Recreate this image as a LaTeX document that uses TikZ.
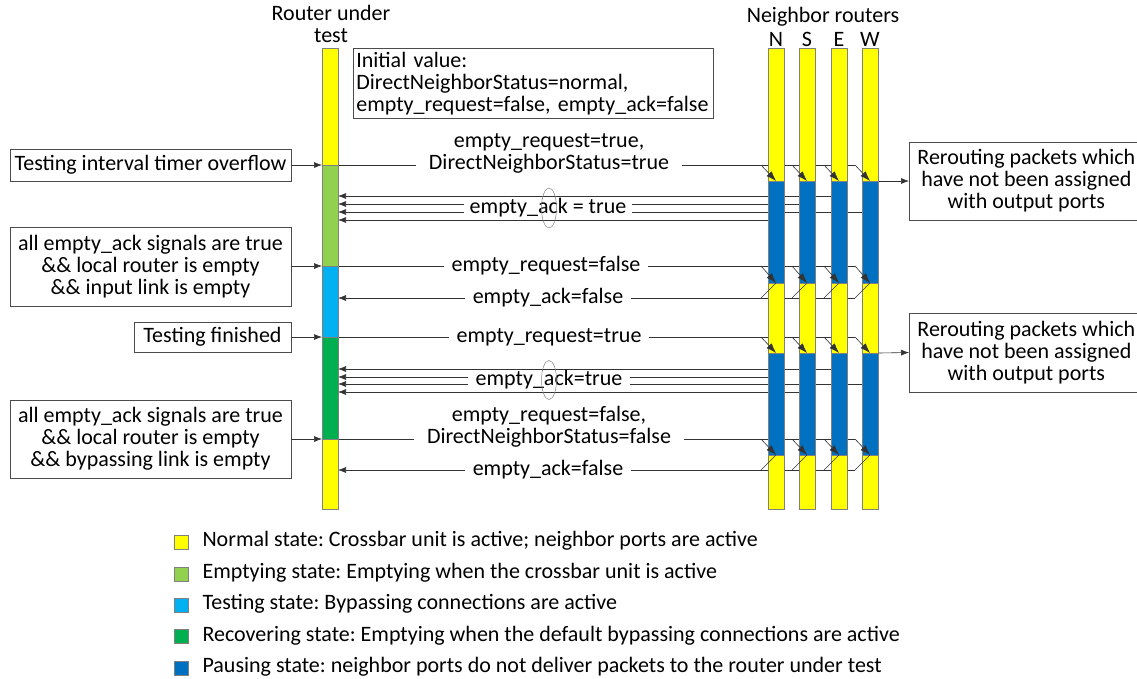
\documentclass[tikz,border=0pt]{standalone}
\usepackage{fontspec}
\setmainfont{Carlito}
\usetikzlibrary{arrows.meta}
\definecolor{cyel}{HTML}{FFFF00}
\definecolor{clgr}{HTML}{92D050}
\definecolor{ccya}{HTML}{00B0F0}
\definecolor{cgrn}{HTML}{00B050}
\definecolor{cblu}{HTML}{0070C0}
\frenchspacing
\begin{document}
\begin{tikzpicture}[x=1pt,y=-1pt,
  font=\fontsize{22}{22}\selectfont,
  colseg/.style={draw=gray, line width=0.8pt, minimum width=16pt, inner sep=0pt, anchor=north west},
  box/.style={draw=black!70, line width=0.7pt, align=center, inner sep=0pt},
  sig/.style={line width=0.6pt, draw=black!80},
  arr/.style={sig, -{Latex[length=8pt,width=6pt]}},
  darr/.style={sig, -{Latex[length=10pt,width=7pt]}},
  lab/.style={fill=white, align=center, inner ysep=0pt, text height=14pt, text depth=5pt},
  ring/.style={draw=gray, line width=0.5pt},
  legsq/.style={draw=gray, line width=0.6pt, minimum size=14pt, inner sep=0pt}]
\useasboundingbox (0,0) rectangle (1137,678);

% titles
\node[align=center] (rut) at (331,24) {Router under\\test};
\node (nr) at (823,17) {Neighbor routers};
\node (tN) at (776,39) {N};
\node (tS) at (807,39) {S};
\node (tE) at (839,39) {E};
\node (tW) at (870,39) {W};

% initial value box
\node[box, anchor=north west, minimum width=360pt, minimum height=70pt, text width=354pt, align=left, inner xsep=3pt] (init) at (353,48)
  {Initial value:\\DirectNeighborStatus=normal,\\empty\_request=false, empty\_ack=false};

% left event boxes
\node[box, minimum width=281pt, minimum height=32pt] (b1) at (150.5,165) {Testing interval timer overflow};
\node[box, minimum width=281pt, minimum height=79pt] (b3) at (150.5,266.5) {all empty\_ack signals are true\\\&\& local router is empty\\\&\& input link is empty};
\node[box, minimum width=157pt, minimum height=30pt] (b5) at (212.5,337) {Testing finished};
\node[box, minimum width=281pt, minimum height=78pt] (b7) at (150.5,439) {all empty\_ack signals are true\\\&\& local router is empty\\\&\& bypassing link is empty};

% right rerouting boxes
\node[box, anchor=west, minimum width=234pt, minimum height=78pt] (rr1) at (909,181) {Rerouting packets which\\have not been assigned\\with output ports};
\node[box, anchor=west, minimum width=234pt, minimum height=79pt] (rr2) at (909,352.5) {Rerouting packets which\\have not been assigned\\with output ports};

% named anchor points
\coordinate (Rl1) at (322,165); \coordinate (Rl3) at (322,266);
\coordinate (Rl5) at (322,337); \coordinate (Rl7) at (322,439);

% event arrows into router under test
\draw[arr] (b1.east |- Rl1) -- (Rl1);
\draw[arr] (b3.east |- Rl3) -- (Rl3);
\draw[arr] (b5.east |- Rl5) -- (Rl5);
\draw[arr] (b7.east |- Rl7) -- (Rl7);

% request horizontals (behind neighbor columns)
\draw[sig] (338,165) -- (855,165);
\draw[sig] (338,266) -- (855,266);
\draw[sig] (338,337) -- (855,337);
\draw[sig] (338,439) -- (855,439);

% ack horizontals returning from diagonals
\draw[arr] (855,298) -- (338,298);
\draw[arr] (855,470) -- (338,470);

% ack = true bundles
\draw[arr] (831,196) -- (338,196);
\draw[arr] (799,204) -- (338,204);
\draw[arr] (862,212) -- (338,212);
\draw[arr] (768,220) -- (338,220);

\draw[arr] (831,369) -- (338,369);
\draw[arr] (768,377) -- (338,377);
\draw[arr] (862,384) -- (338,384);
\draw[arr] (799,392) -- (338,392);

% signal labels
\node[lab, inner xsep=13pt] (l1) at (549,165) {empty\_request=true,\\DirectNeighborStatus=true};
\node[lab, inner xsep=6pt] (l2) at (548,209) {empty\_ack = true};
\node[lab, inner xsep=8pt] (l3) at (546,267) {empty\_request=false};
\node[lab, inner xsep=8pt] (l4) at (548,299) {empty\_ack=false};
\node[lab, inner xsep=8pt] (l5) at (549,338) {empty\_request=true};
\node[lab, inner xsep=8pt] (l6) at (549,381) {empty\_ack=true};
\node[lab, inner xsep=13pt] (l7) at (549,439) {empty\_request=false,\\DirectNeighborStatus=false};
\node[lab, inner xsep=8pt] (l8) at (548,471) {empty\_ack=false};

\draw[ring] (549,208) ellipse [x radius=7.5, y radius=20];
\draw[ring] (549,380) ellipse [x radius=7.5, y radius=19.5];

% router under test column
\node[colseg, fill=cyel, minimum height=117pt] (r1) at (322,48) {};
\node[colseg, fill=clgr, minimum height=101pt] (r2) at (322,165) {};
\node[colseg, fill=ccya, minimum height=71pt]  (r3) at (322,266) {};
\node[colseg, fill=cgrn, minimum height=102pt] (r4) at (322,337) {};
\node[colseg, fill=cyel, minimum height=70pt]  (r5) at (322,439) {};

% neighbor columns
\foreach \L/\n in {768/N,799/S,831/E,862/W}{
  \node[colseg, fill=cyel, minimum height=133pt] (\n1) at (\L,48) {};
  \node[colseg, fill=cblu, minimum height=102pt] (\n2) at (\L,181) {};
  \node[colseg, fill=cyel, minimum height=70pt]  (\n3) at (\L,283) {};
  \node[colseg, fill=cblu, minimum height=102pt] (\n4) at (\L,353) {};
  \node[colseg, fill=cyel, minimum height=54pt]  (\n5) at (\L,455) {};
  % request diagonals with arrows
  \draw[darr] (\L-7,165) -- (\L+8,181);
  \draw[darr] (\L-7,266) -- (\L+8,283);
  \draw[darr] (\L-7,337) -- (\L+8,353);
  \draw[darr] (\L-7,439) -- (\L+8,455);
  % ack diagonals
  \draw[sig] (\L+8,283) -- (\L-7,298);
  \draw[sig] (\L+8,455) -- (\L-7,470);
}

% rerouting arrows
\draw[arr] (W2.north east) -- (rr1.west);
\draw[arr] (W4.north east) -- (rr2.west);

% legend
\node[legsq, fill=cyel] (q1) at (181,542) {};
\node[legsq, fill=clgr] (q2) at (181,574) {};
\node[legsq, fill=ccya] (q3) at (181,605) {};
\node[legsq, fill=cgrn] (q4) at (181,636) {};
\node[legsq, fill=cblu] (q5) at (181,668) {};
\node[anchor=west] (t1) at (199,541) {Normal state: Crossbar unit is active; neighbor ports are active};
\node[anchor=west] (t2) at (199,573) {Emptying state: Emptying when the crossbar unit is active};
\node[anchor=west] (t3) at (199,604) {Testing state: Bypassing connections are active};
\node[anchor=west] (t4) at (199,636) {Recovering state: Emptying when the default bypassing connections are active};
\node[anchor=west] (t5) at (199,667) {Pausing state: neighbor ports do not deliver packets to the router under test};
\end{tikzpicture}
\end{document}
